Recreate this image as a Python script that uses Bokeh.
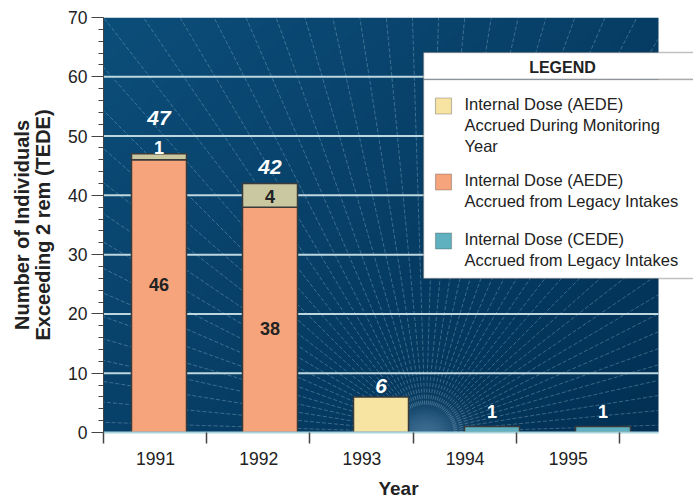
import numpy as np
from bokeh.plotting import figure
from bokeh.models import (ColumnDataSource, FixedTicker, Range1d, BoxAnnotation, Label,
                          CustomJSTickFormatter)
from bokeh.core.properties import value
from bokeh.embed import file_html
from bokeh.resources import INLINE

# ---------------- data ----------------
years = ["1991", "1992", "1993", "1994", "1995"]
aede_during_year = [1, 4, 6, 0, 0]      # Internal Dose (AEDE) Accrued During Monitoring Year
aede_legacy = [46, 38, 0, 0, 0]         # Internal Dose (AEDE) Accrued from Legacy Intakes
cede_legacy = [0, 0, 0, 1, 1]           # Internal Dose (CEDE) Accrued from Legacy Intakes
y_ticks = [0, 10, 20, 30, 40, 50, 60, 70]
legend_entries = [
    ["Internal Dose (AEDE)", "Accrued During Monitoring", "Year"],
    ["Internal Dose (AEDE)", "Accrued from Legacy Intakes"],
    ["Internal Dose (CEDE)", "Accrued from Legacy Intakes"],
]

# ---------------- style / layout ----------------
FONT = "Liberation Sans"
TXT = "#222222"
C_YEAR = "#f8e4a2"
C_YEAR_STACK = "#c9c8a0"
C_LEGACY = "#f5a47c"
C_CEDE = "#5fb1bf"
W, H = 693, 504
FL, FT, FB = 103, 17, 432          # frame left / top / bottom (pixels)
FRAME_H = FB - FT
PLOT_W = 555                        # width of the blue plotting area
X0 = 0.5
PX_X = 111.0
PX_Y = FRAME_H / 70.0
XE = X0 + (W - FL) / PX_X           # frame extends to the right edge (legend overhang)
XB = X0 + PLOT_W / PX_X             # end of blue plotting area


def px2x(px):
    return X0 + (px - FL) / PX_X


def px2y(py):
    return (FB - py) / PX_Y


p = figure(width=W, height=H, x_range=Range1d(X0, XE), y_range=Range1d(0, 70),
           output_backend="svg", toolbar_location=None,
           min_border_left=FL, min_border_right=0, min_border_top=FT, min_border_bottom=H - FB)
p.outline_line_color = None
p.background_fill_color = "white"
p.border_fill_color = "white"

# ---------------- background gradient ----------------
ny, nx = FRAME_H, PLOT_W
yy, xx = np.mgrid[0:ny, 0:nx].astype(float)
t = np.clip(0.55 * xx / nx + 0.45 * (1 - yy / ny), 0, 1)
c0 = np.array([12, 78, 122], float)
c1 = np.array([2, 48, 84], float)
rgb = c0[None, None, :] * (1 - t)[..., None] + c1[None, None, :] * t[..., None]
focal_px = 322.0
g = np.exp(-((xx - focal_px) ** 2 + (yy * 1.4) ** 2) / (2 * 24.0 ** 2))
rgb = rgb * (1 - 0.5 * g[..., None]) + np.array([115, 160, 195], float)[None, None, :] * 0.5 * g[..., None]
img = np.empty((ny, nx), dtype=np.uint32)
view = img.view(dtype=np.uint8).reshape((ny, nx, 4))
view[..., 0] = rgb[..., 0].astype(np.uint8)
view[..., 1] = rgb[..., 1].astype(np.uint8)
view[..., 2] = rgb[..., 2].astype(np.uint8)
view[..., 3] = 255
p.image_rgba(image=[img], x=X0, y=0, dw=XB - X0, dh=70, level="image")

# rays from the focal point, limited to the blue area
fx = X0 + focal_px / PX_X
R_IN = 28.0
ang = np.deg2rad(np.arange(1.8, 180, 3.6))
x0s, y0s, x1s, y1s = [], [], [], []
for a in ang:
    c, s = np.cos(a), np.sin(a)
    lims = [FRAME_H / s]
    if c > 1e-9:
        lims.append((PLOT_W - focal_px) / c)
    elif c < -1e-9:
        lims.append(-focal_px / c)
    r = min(lims)
    x0s.append(fx + R_IN * c / PX_X)
    y0s.append(R_IN * s / PX_Y)
    x1s.append(fx + r * c / PX_X)
    y1s.append(r * s / PX_Y)
p.segment(x0=x0s, y0=y0s, x1=x1s, y1=y1s,
          line_color="#a9cde0", line_alpha=0.33, line_width=1, line_dash="4 2", level="image")

# ---------------- grid (drawn over blue area only) ----------------
p.xgrid.visible = False
p.ygrid.visible = False
gy = y_ticks[1:-1]
p.segment(x0=[X0] * len(gy), y0=gy, x1=[XB] * len(gy), y1=gy,
          line_color="#bcd7df", line_width=2, level="underlay")

# ---------------- bars ----------------
xs = np.arange(1, len(years) + 1)
BW = 55 / PX_X
leg_idx = [i for i, v in enumerate(aede_legacy) if v > 0]
src_leg = ColumnDataSource(dict(x=[xs[i] for i in leg_idx], top=[aede_legacy[i] for i in leg_idx],
                                bottom=[0] * len(leg_idx)))
p.vbar(x="x", top="top", bottom="bottom", width=BW, source=src_leg,
       fill_color=C_LEGACY, line_color="#3a3a3a", line_width=1.5)

yr_idx = [i for i, v in enumerate(aede_during_year) if v > 0]
src_yr = ColumnDataSource(dict(
    x=[xs[i] for i in yr_idx],
    bottom=[aede_legacy[i] for i in yr_idx],
    top=[aede_legacy[i] + aede_during_year[i] for i in yr_idx],
    color=[C_YEAR_STACK if aede_legacy[i] > 0 else C_YEAR for i in yr_idx]))
p.vbar(x="x", top="top", bottom="bottom", width=BW, source=src_yr,
       fill_color="color", line_color="#3a3a3a", line_width=1.5)

ce_idx = [i for i, v in enumerate(cede_legacy) if v > 0]
src_ce = ColumnDataSource(dict(x=[xs[i] for i in ce_idx], top=[cede_legacy[i] for i in ce_idx],
                               bottom=[0] * len(ce_idx)))
p.vbar(x="x", top="top", bottom="bottom", width=BW, source=src_ce,
       fill_color=C_CEDE, line_color="#3a3a3a", line_width=1.5)

# ---------------- value labels ----------------
tot_idx = yr_idx
src_tot = ColumnDataSource(dict(
    x=[xs[i] for i in tot_idx],
    y=[aede_legacy[i] + aede_during_year[i] for i in tot_idx],
    text=[str(aede_legacy[i] + aede_during_year[i]) for i in tot_idx],
    off=[-36, -17, -11]))
p.text(x="x", y="y", text="text", y_offset="off", source=src_tot, text_align="center",
       text_baseline="middle", text_color="white", text_font=value(FONT),
       text_font_style="bold italic", text_font_size="21px")

st_idx = [i for i in yr_idx if aede_legacy[i] > 0]
src_st = ColumnDataSource(dict(
    x=[xs[i] for i in st_idx],
    y=[aede_legacy[i] + aede_during_year[i] / 2 for i in st_idx],
    text=[str(aede_during_year[i]) for i in st_idx],
    off=[-9, 1],
    color=["white", TXT]))
p.text(x="x", y="y", text="text", y_offset="off", text_color="color", source=src_st,
       text_align="center", text_baseline="middle", text_font=value(FONT),
       text_font_style="bold", text_font_size="18px")

src_lg = ColumnDataSource(dict(
    x=[xs[i] for i in leg_idx],
    y=[aede_legacy[i] / 2 for i in leg_idx],
    text=[str(aede_legacy[i]) for i in leg_idx],
    off=[-12, 9]))
p.text(x="x", y="y", text="text", y_offset="off", source=src_lg, text_color=TXT,
       text_align="center", text_baseline="middle", text_font=value(FONT),
       text_font_style="bold", text_font_size="18px")

src_cl = ColumnDataSource(dict(
    x=[xs[i] for i in ce_idx],
    y=[cede_legacy[i] for i in ce_idx],
    text=[str(cede_legacy[i]) for i in ce_idx],
    off=[-15] * len(ce_idx)))
p.text(x="x", y="y", text="text", y_offset="off", source=src_cl, text_color="white",
       text_align="center", text_baseline="middle", text_font=value(FONT),
       text_font_style="bold", text_font_size="18px")

# ---------------- axes ----------------
STEP = 103.2 / PX_X
lab_start = X0 + 52 / PX_X
p.xaxis.ticker = FixedTicker(ticks=[lab_start + k * STEP for k in range(len(years))],
                             minor_ticks=[X0 + k * STEP for k in range(len(years) + 1)])
p.xaxis.formatter = CustomJSTickFormatter(
    args=dict(labels=years, start=lab_start, step=STEP),
    code="const i = Math.round((tick - start) / step); return labels[i] || '';")
p.xaxis.bounds = (X0, XB)
p.xaxis.major_tick_out = 0
p.xaxis.major_tick_in = 0
p.xaxis.minor_tick_out = 11
p.xaxis.minor_tick_in = 0
p.xaxis.minor_tick_line_color = "#444444"
p.xaxis.minor_tick_line_width = 1.5
p.xaxis.axis_line_color = "#a8d4de"
p.xaxis.axis_line_width = 2
p.xaxis.major_label_standoff = 8
p.xaxis.axis_label = "Year"
p.xaxis.axis_label_standoff = 10
p.xaxis.axis_label_text_font_size = "19px"

p.yaxis.ticker = FixedTicker(ticks=y_ticks, minor_ticks=list(range(0, 71, 2)))
p.yaxis.major_tick_out = 12
p.yaxis.major_tick_in = 0
p.yaxis.minor_tick_out = 5
p.yaxis.minor_tick_in = 0
p.yaxis.major_tick_line_color = "#444444"
p.yaxis.minor_tick_line_color = "#444444"
p.yaxis.axis_line_color = "#444444"
p.yaxis.major_label_standoff = 4
p.yaxis.axis_label = "Number of Individuals\nExceeding 2 rem (TEDE)"
p.yaxis.axis_label_standoff = 11
p.yaxis.axis_label_text_font_size = "20px"
p.yaxis.axis_label_text_line_height = 0.95

for ax in (p.xaxis, p.yaxis):
    ax.major_label_text_font = FONT
    ax.major_label_text_font_size = "17.5px"
    ax.major_label_text_color = TXT
    ax.axis_label_text_font = FONT
    ax.axis_label_text_font_style = "bold"
    ax.axis_label_text_color = TXT

# ---------------- legend (drawn) ----------------
LG_L, LG_R = 423, 720
p.add_layout(BoxAnnotation(left=px2x(LG_L), right=px2x(LG_R), top=px2y(52), bottom=px2y(79),
                           fill_color="white", fill_alpha=1, line_color="#333333", line_width=1.5))
p.add_layout(BoxAnnotation(left=px2x(LG_L), right=px2x(LG_R), top=px2y(79), bottom=px2y(278),
                           fill_color="white", fill_alpha=1, line_color="#333333", line_width=1.5))
p.add_layout(Label(x=px2x(562), y=px2y(67), text="LEGEND", text_align="center",
                   text_baseline="middle", text_font=FONT, text_font_style="bold",
                   text_font_size="16px", text_color=TXT))
sw_colors = [C_YEAR, C_LEGACY, C_CEDE]
sw_centers = [105.5, 181.5, 240.5]
line_starts = [103, 179, 238]
for entry, col, cy, ly in zip(legend_entries, sw_colors, sw_centers, line_starts):
    p.add_layout(BoxAnnotation(left=px2x(435), right=px2x(451), top=px2y(cy - 8), bottom=px2y(cy + 8),
                               fill_color=col, fill_alpha=1, line_color="#333333", line_width=1.2))
    for k, line in enumerate(entry):
        p.add_layout(Label(x=px2x(464), y=px2y(ly + 21 * k), text=line, text_align="left",
                           text_baseline="middle", text_font=FONT, text_font_size="16.5px",
                           text_color=TXT))

open("out.html", "w").write(file_html(p, INLINE))
